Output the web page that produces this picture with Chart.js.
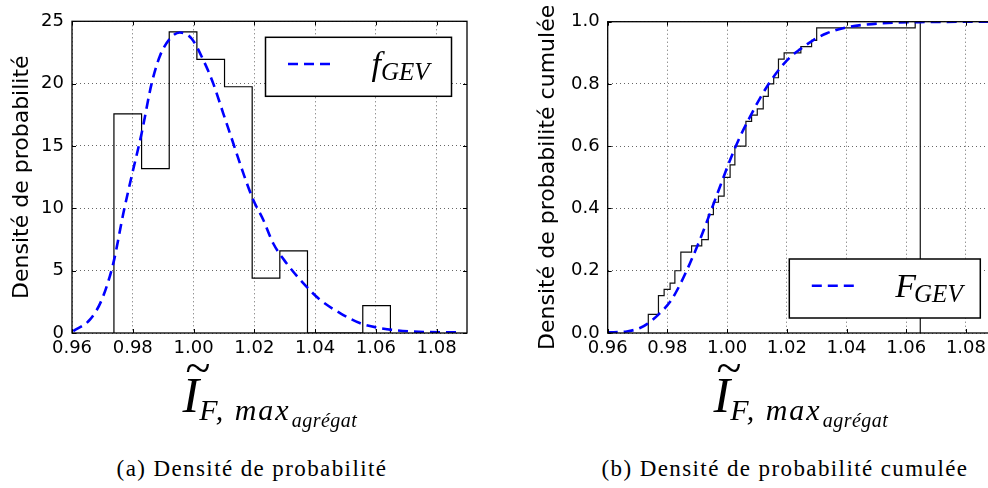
<!DOCTYPE html>
<html>
<head>
<meta charset="utf-8">
<script src="https://cdn.jsdelivr.net/npm/chart.js@4.4.1/dist/chart.umd.min.js"></script>
<style>
  body { margin: 0; width: 988px; height: 488px; overflow: hidden; background: #fff; position: relative; }
  .box { position: absolute; top: 0; }
  .xt { position: absolute; top: 370px; transform: translateX(-50%); white-space: nowrap;
        font-family: "Liberation Serif", serif; font-style: italic; font-size: 50px; line-height: 1; color: #000; }
  .xt .big { position: relative; }
  .xt .tilde { position: absolute; left: 3px; top: -22px; font-size: 46px; font-style: normal; }
  .xt .s1 { font-size: 30px; vertical-align: -8px; margin-left: 0px; letter-spacing: 2px; }
  .xt .s2 { font-size: 20px; vertical-align: -7px; letter-spacing: 0.5px; margin-left: 1px; }
  .cap { position: absolute; top: 457px; transform: translateX(-50%); white-space: nowrap;
         font-family: "Liberation Serif", serif; font-size: 23px; line-height: 1; color: #000; letter-spacing: 1.4px; }
</style>
</head>
<body>
<div class="box" style="left:0; width:490px; height:360px;"><canvas id="pdf" width="490" height="360"></canvas></div>
<div class="box" style="left:500px; width:510px; height:360px;"><canvas id="cdf" width="510" height="360"></canvas></div>

<div class="xt" style="left:270px;"><span class="big">I<span class="tilde">~</span></span><span class="s1">F, max<span class="s2">agrégat</span></span></div>
<div class="xt" style="left:801px;"><span class="big">I<span class="tilde">~</span></span><span class="s1">F, max<span class="s2">agrégat</span></span></div>

<div class="cap" style="left:252px;">(a) Densité de probabilité</div>
<div class="cap" style="left:785px;">(b) Densité de probabilité cumulée</div>

<script>
// axes
const xTicks = [0.96, 0.98, 1.00, 1.02, 1.04, 1.06, 1.08];
const xTickLabels = ['0.96', '0.98', '1.00', '1.02', '1.04', '1.06', '1.08'];
const pdfTicks = [0, 5, 10, 15, 20, 25];
const pdfTickLabels = ['0', '5', '10', '15', '20', '25'];
const cdfTicks = [0, 0.2, 0.4, 0.6, 0.8, 1.0];
const cdfTickLabels = ['0.0', '0.2', '0.4', '0.6', '0.8', '1.0'];

// (a) histogramme (densité) : bords des classes et hauteurs
const histEdges = [0.9738, 0.9829, 0.9920, 1.0011, 1.0102, 1.0193, 1.0284, 1.0375, 1.0466, 1.0557, 1.0648];
const histDensity = [17.58, 13.18, 24.15, 21.95, 19.75, 4.40, 6.58, 0, 0, 2.20];

// (a) densité GEV ajustée
const pdfX = [0.9604, 0.9659, 0.9698, 0.9736, 0.9769, 0.9796, 0.9829, 0.9862, 0.9889, 0.9922, 0.9955,
              0.9994, 1.0032, 1.0065, 1.0098, 1.0131, 1.0164, 1.0196, 1.0229, 1.0262, 1.0306, 1.0361,
              1.0416, 1.0482, 1.0547, 1.0613, 1.0712, 1.0876];
const pdfY = [0.15, 1.07, 2.67, 5.6, 9.6, 12.55, 16.0, 20.0, 22.2, 23.6, 24.1,
              23.6, 21.9, 20.0, 17.6, 15.2, 12.8, 10.7, 9.1, 7.2, 5.6, 4.0,
              2.67, 1.6, 0.8, 0.4, 0.13, 0.05];

// (b) répartition empirique : position des marches et niveau atteint
const cdfStepX = [0.9736, 0.9770, 0.9789, 0.9809, 0.9825, 0.9845, 0.9881, 0.9915, 0.9937, 0.9954,
                  0.9971, 0.9990, 1.0010, 1.0026, 1.0063, 1.0082, 1.0101, 1.0121, 1.0138, 1.0156,
                  1.0172, 1.0191, 1.0247, 1.0283, 1.0300, 1.0630];
const cdfStepY = [0.06, 0.12, 0.14, 0.16, 0.20, 0.26, 0.28, 0.30, 0.38, 0.42,
                  0.44, 0.50, 0.54, 0.60, 0.68, 0.70, 0.72, 0.76, 0.80, 0.82,
                  0.88, 0.90, 0.92, 0.94, 0.98, 1.00];
const cdfEnd = 1.0647;

// (b) fonction de répartition GEV ajustée
const cdfFitX = [0.9600, 0.9664, 0.9708, 0.9734, 0.9775, 0.9809, 0.9842, 0.9876, 0.9909, 0.9943,
                 0.9976, 1.0010, 1.0043, 1.0077, 1.0110, 1.0144, 1.0177, 1.0211, 1.0244, 1.0289,
                 1.0334, 1.0401, 1.0468, 1.0557, 1.0669, 1.0900];
const cdfFitY = [0.002, 0.005, 0.016, 0.03, 0.064, 0.10, 0.155, 0.225, 0.30, 0.385,
                 0.47, 0.556, 0.63, 0.695, 0.754, 0.807, 0.85, 0.886, 0.911, 0.941,
                 0.963, 0.982, 0.991, 0.997, 0.999, 1.0];

const tickFont = { family: 'DejaVu Sans', size: 18 };
const titleFont = { family: 'DejaVu Sans', size: 22 };
const blue = '#0000ff';

// cadre, petites graduations intérieures et légende
const framePlugin = {
    id: 'frameLegend',
    afterDraw(chart, args, opts) {
        const ctx = chart.ctx;
        const { left, right, top, bottom } = chart.chartArea;
        ctx.save();
        ctx.strokeStyle = '#000';
        ctx.lineWidth = 1;
        chart.scales.x.ticks.forEach(t => {
            const px = Math.round(chart.scales.x.getPixelForValue(t.value)) + 0.5;
            ctx.beginPath();
            ctx.moveTo(px, bottom); ctx.lineTo(px, bottom - 4);
            ctx.moveTo(px, top); ctx.lineTo(px, top + 4);
            ctx.stroke();
        });
        chart.scales.y.ticks.forEach(t => {
            const py = Math.round(chart.scales.y.getPixelForValue(t.value)) + 0.5;
            ctx.beginPath();
            ctx.moveTo(left, py); ctx.lineTo(left + 4, py);
            ctx.moveTo(right, py); ctx.lineTo(right - 4, py);
            ctx.stroke();
        });
        ctx.lineWidth = 1.3;
        ctx.strokeRect(left, top, right - left, bottom - top);

        // légende
        const w = opts.width, h = 59;
        const bx = right - 15.5 - w;
        const by = opts.corner === 'top' ? top + 16 : bottom - 15 - h;
        ctx.fillStyle = '#fff';
        ctx.fillRect(bx, by, w, h);
        ctx.lineWidth = 1.5;
        ctx.strokeRect(bx, by, w, h);
        ctx.strokeStyle = blue;
        ctx.lineWidth = 2.6;
        ctx.setLineDash([10, 6]);
        ctx.beginPath();
        ctx.moveTo(bx + 22.5, by + 26.7);
        ctx.lineTo(bx + 67.5, by + 26.7);
        ctx.stroke();
        ctx.setLineDash([]);
        ctx.fillStyle = '#000';
        ctx.textBaseline = 'alphabetic';
        ctx.font = 'italic 34px "Liberation Serif"';
        ctx.fillText(opts.main, bx + 106, by + 38);
        const mw = ctx.measureText(opts.main).width;
        ctx.font = 'italic 25px "Liberation Serif"';
        ctx.fillText('GEV', bx + 106 + mw + opts.kern, by + 42.5);
        ctx.restore();
    }
};

function xScale() {
    return {
        type: 'linear', min: 0.96, max: 1.09,
        afterBuildTicks: s => { s.ticks = xTicks.map(v => ({ value: v })); },
        afterFit: s => { s.height = 27; },
        ticks: { callback: (v, i) => xTickLabels[i], font: tickFont, color: '#000', padding: 5, maxRotation: 0, autoSkip: false },
        grid: { color: 'rgba(0,0,0,0.6)', lineWidth: 1, drawTicks: false },
        border: { display: false, dash: [1, 3] }
    };
}

function yScale(ticks, labels, max, width, titleText, titlePad) {
    return {
        type: 'linear', min: 0, max: max,
        afterBuildTicks: s => { s.ticks = ticks.map(v => ({ value: v })); },
        afterFit: s => { s.width = width; },
        ticks: { callback: (v, i) => labels[i], font: tickFont, color: '#000', padding: 8, autoSkip: false },
        grid: { color: 'rgba(0,0,0,0.6)', lineWidth: 1, drawTicks: false },
        border: { display: false, dash: [1, 3] },
        title: { display: true, text: titleText, font: titleFont, color: '#000', padding: { top: titlePad, bottom: 0 } }
    };
}

const baseOptions = {
    responsive: false,
    animation: false,
    devicePixelRatio: 1,
    events: []
};

// histogramme en escalier
const histPoints = [{ x: histEdges[0], y: 0 }];
histDensity.forEach((d, i) => histPoints.push({ x: histEdges[i], y: d }));
histPoints.push({ x: histEdges[histEdges.length - 1], y: 0 });

new Chart(document.getElementById('pdf'), {
    type: 'line',
    data: {
        datasets: [
            { data: pdfX.map((x, i) => ({ x: x, y: pdfY[i] })), borderColor: blue, borderWidth: 2.6,
              borderDash: [10, 6], pointRadius: 0, cubicInterpolationMode: 'monotone', fill: false, order: 0 },
            { data: histPoints, borderColor: '#000', borderWidth: 1.2, stepped: 'before', pointRadius: 0, fill: false, order: 1 }
        ]
    },
    options: Object.assign({}, baseOptions, {
        layout: { padding: { top: 21.3, right: 23, left: 0, bottom: 0 } },
        plugins: { legend: { display: false }, tooltip: { enabled: false },
                   frameLegend: { width: 186, corner: 'top', main: 'f', kern: 0 } },
        scales: {
            x: xScale(),
            y: yScale(pdfTicks, pdfTickLabels, 25, 72, 'Densité de probabilité', 9)
        }
    }),
    plugins: [framePlugin]
});

// répartition empirique en escalier
const cdfPoints = [{ x: cdfStepX[0], y: 0 }];
cdfStepX.forEach((x, i) => cdfPoints.push({ x: x, y: cdfStepY[i] }));
cdfPoints.push({ x: cdfEnd, y: 1.0 });
cdfPoints.push({ x: cdfEnd, y: 0 });

new Chart(document.getElementById('cdf'), {
    type: 'line',
    data: {
        datasets: [
            { data: cdfFitX.map((x, i) => ({ x: x, y: cdfFitY[i] })), borderColor: blue, borderWidth: 2.6,
              borderDash: [10, 6], pointRadius: 0, cubicInterpolationMode: 'monotone', fill: false, order: 0 },
            { data: cdfPoints, borderColor: '#111', borderWidth: 1.2, stepped: 'before', pointRadius: 0, fill: false, order: 1 }
        ]
    },
    options: Object.assign({}, baseOptions, {
        layout: { padding: { top: 21.7, right: 14.2, left: 0, bottom: 0 } },
        plugins: { legend: { display: false }, tooltip: { enabled: false },
                   frameLegend: { width: 191, corner: 'bottom', main: 'F', kern: -2 } },
        scales: {
            x: xScale(),
            y: yScale(cdfTicks, cdfTickLabels, 1.0, 107.7, 'Densité de probabilité cumulée', 35)
        }
    }),
    plugins: [framePlugin]
});
</script>
</body>
</html>
